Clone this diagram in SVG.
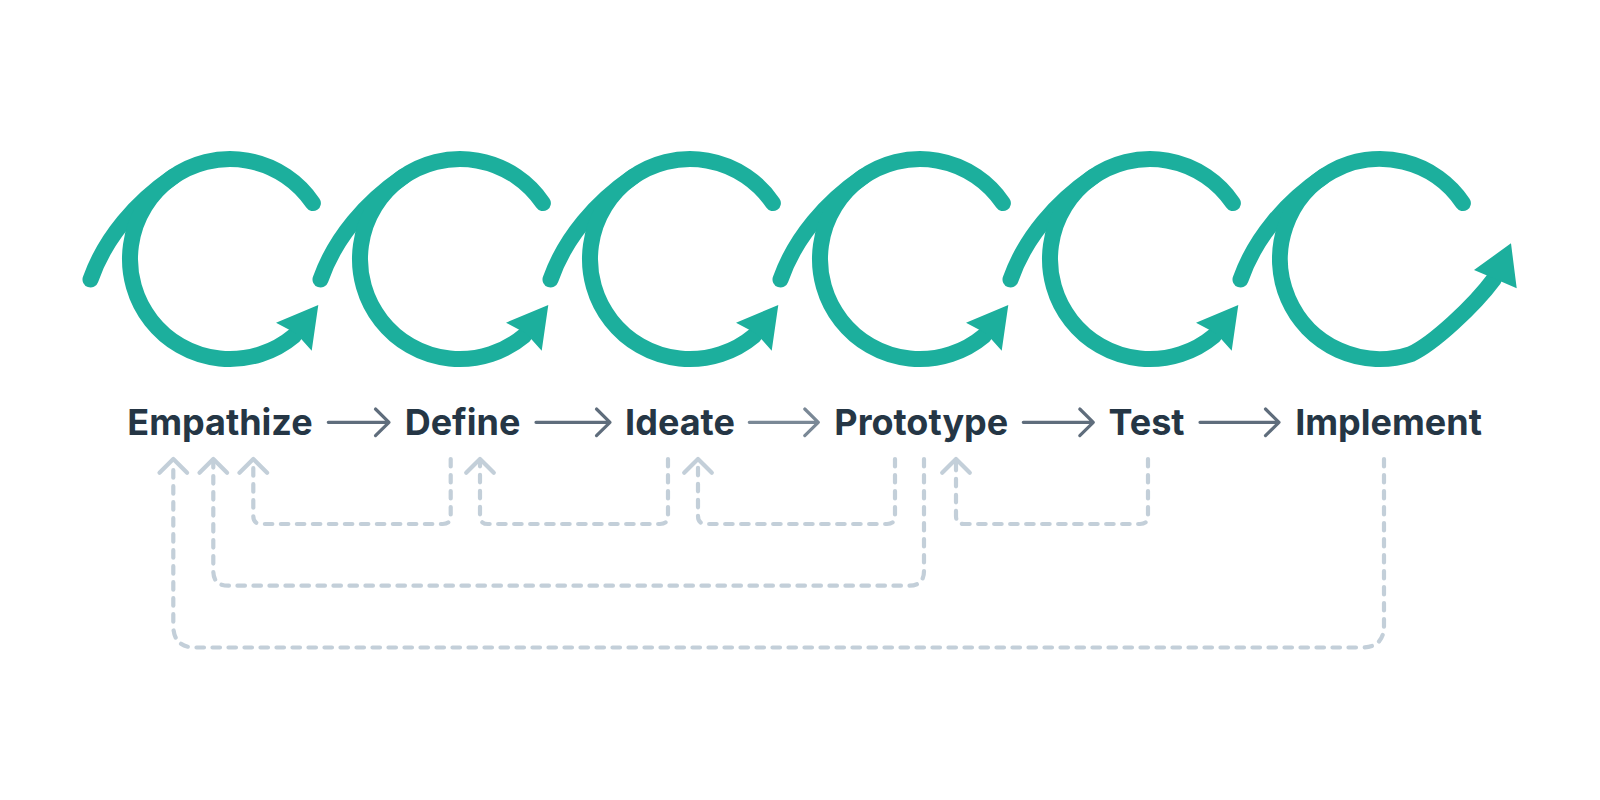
<svg xmlns="http://www.w3.org/2000/svg" width="1600" height="800" viewBox="0 0 1600 800">
  <style>
    .loop { fill: none; stroke: #1caf9d; stroke-width: 16; stroke-linecap: round; }
    .head { fill: #1caf9d; }
    .label { font-family: Inter, "Noto Sans", "Liberation Sans", sans-serif; font-weight: 700; font-size: 36px; fill: #253645; text-anchor: middle; }
    .flow { fill: none; stroke: #5f6d7c; stroke-width: 3.2; stroke-linecap: round; stroke-linejoin: round; }
    .flow.light { stroke: #7a8896; }
    .back { fill: none; stroke: #c3cfd9; stroke-width: 4.2; stroke-linecap: round; stroke-dasharray: 7.5 8.5; }
    .backhead { fill: none; stroke: #c3cfd9; stroke-width: 4.2; stroke-linecap: round; stroke-linejoin: round; }
  </style>
  <defs>
    <path id="swoosh" d="M90.5,279.5 C105.4,237.2 136.3,202.1 173.4,176.6"/>
  </defs>
  <rect width="1600" height="800" fill="#ffffff"/>

  <g id="loops">
    <g id="loop-empathize">
      <use href="#swoosh" class="loop"/>
      <path class="loop" d="M312.9,203.1 A100,100 0 1 0 294.3,335.6"/>
      <polygon class="head" points="276,322.7 318.3,305 311.7,350.7 296.3,333.5"/>
    </g>
    <g id="loop-define" transform="translate(230,0)">
      <use href="#swoosh" class="loop"/>
      <path class="loop" d="M312.9,203.1 A100,100 0 1 0 294.3,335.6"/>
      <polygon class="head" points="276,322.7 318.3,305 311.7,350.7 296.3,333.5"/>
    </g>
    <g id="loop-ideate" transform="translate(460,0)">
      <use href="#swoosh" class="loop"/>
      <path class="loop" d="M312.9,203.1 A100,100 0 1 0 294.3,335.6"/>
      <polygon class="head" points="276,322.7 318.3,305 311.7,350.7 296.3,333.5"/>
    </g>
    <g id="loop-prototype" transform="translate(690,0)">
      <use href="#swoosh" class="loop"/>
      <path class="loop" d="M312.9,203.1 A100,100 0 1 0 294.3,335.6"/>
      <polygon class="head" points="276,322.7 318.3,305 311.7,350.7 296.3,333.5"/>
    </g>
    <g id="loop-test" transform="translate(920,0)">
      <use href="#swoosh" class="loop"/>
      <path class="loop" d="M312.9,203.1 A100,100 0 1 0 294.3,335.6"/>
      <polygon class="head" points="276,322.7 318.3,305 311.7,350.7 296.3,333.5"/>
    </g>
    <g id="loop-implement" transform="translate(1150,0)">
      <use href="#swoosh" class="loop"/>
      <path class="loop" d="M312.9,203.1 A100,100 0 1 0 260.9,354.1 C283,344 324,306 344,279"/>
      <polygon class="head" points="324,270 361,243.3 366.7,288.3 343,278"/>
    </g>
  </g>

  <g id="node-empathize"><text class="label" x="220" y="435">Empathize</text></g>
  <g id="node-define"><text class="label" x="462.5" y="435">Define</text></g>
  <g id="node-ideate"><text class="label" x="680" y="435">Ideate</text></g>
  <g id="node-prototype"><text class="label" x="921.3" y="435">Prototype</text></g>
  <g id="node-test"><text class="label" x="1146.5" y="435">Test</text></g>
  <g id="node-implement"><text class="label" x="1388.5" y="435">Implement</text></g>

  <g id="connectors">
    <path class="flow" d="M328.3,422.3 H389 M375.5,409 L389,422.3 L375.5,435.6"/>
    <path class="flow" d="M536,422.3 H610 M596.5,409 L610,422.3 L596.5,435.6"/>
    <path class="flow light" d="M749.3,422.3 H818.3 M804.8,409 L818.3,422.3 L804.8,435.6"/>
    <path class="flow" d="M1023.3,422.3 H1093.3 M1079.8,409 L1093.3,422.3 L1079.8,435.6"/>
    <path class="flow" d="M1200,422.3 H1279 M1265.5,409 L1279,422.3 L1265.5,435.6"/>

    <path class="back" d="M450.7,459 V516 Q450.7,524 442.7,524 H261.3 Q253.3,524 253.3,516 V462"/>
    <path class="back" d="M668,459 V516 Q668,524 660,524 H488 Q480,524 480,516 V462"/>
    <path class="back" d="M895,459 V516 Q895,524 887,524 H706 Q698,524 698,516 V462"/>
    <path class="back" d="M1148,459 V516 Q1148,524 1140,524 H964 Q956,524 956,516 V462"/>
    <path class="back" d="M924,459 V571 Q924,585.7 909,585.7 H228.3 Q213.3,585.7 213.3,571 V462"/>
    <path class="back" d="M1384,459 V625.5 Q1384,647.5 1362,647.5 H195.3 Q173.3,647.5 173.3,625.5 V462"/>

    <path class="backhead" d="M239.5,472.8 L253.3,459 L267.1,472.8"/>
    <path class="backhead" d="M199.5,472.8 L213.3,459 L227.1,472.8"/>
    <path class="backhead" d="M159.5,472.8 L173.3,459 L187.1,472.8"/>
    <path class="backhead" d="M466.2,472.8 L480,459 L493.8,472.8"/>
    <path class="backhead" d="M684.2,472.8 L698,459 L711.8,472.8"/>
    <path class="backhead" d="M942.2,472.8 L956,459 L969.8,472.8"/>
  </g>
</svg>
